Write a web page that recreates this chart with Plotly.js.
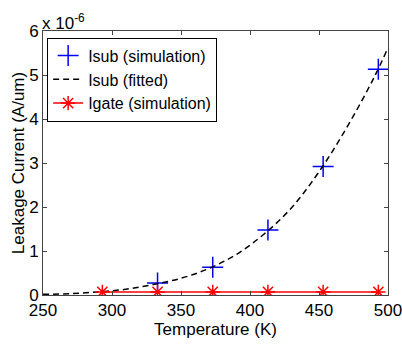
<!DOCTYPE html>
<html>
<head>
<meta charset="utf-8">
<script src="https://cdn.plot.ly/plotly-3.0.1.min.js"></script>
<style>html,body{margin:0;padding:0;background:#fff;}#chart{width:402px;height:346px;}</style>
</head>
<body>
<div id="chart"></div>
<script>
// Values in units of 1e-6 A/um
const simTemps = [333, 373, 413, 453, 493];
const isubSim = [0.27, 0.63, 1.48, 2.92, 5.13];
const fitTemps = [250, 270, 290, 310, 330, 350, 370, 390, 410, 430, 450, 470, 490, 500];
const isubFit = [0.015, 0.03, 0.07, 0.13, 0.24, 0.38, 0.60, 0.92, 1.38, 1.98, 2.80, 3.80, 4.95, 5.62];
const gateTemps = [293, 333, 373, 413, 453, 493];
const igateSim = [0.07, 0.07, 0.07, 0.07, 0.07, 0.07];
const xTicks = [250, 300, 350, 400, 450, 500];
const yTicks = [0, 1, 2, 3, 4, 5, 6];

const font = {family: 'Liberation Sans, Arial, sans-serif', size: 17, color: '#000'};
const legFont = {family: 'Liberation Sans, Arial, sans-serif', size: 16, color: '#000'};

const traces = [
  {x: simTemps, y: isubSim, name: 'Isub (simulation)', mode: 'markers', type: 'scatter',
   marker: {symbol: 'cross-thin-open', size: 15, line: {color: '#0000ff', width: 1.5}, color: '#0000ff'}},
  {x: fitTemps, y: isubFit, name: 'Isub (fitted)', mode: 'lines', type: 'scatter',
   line: {color: '#000', width: 1.5, dash: '6px,4px', shape: 'spline'}},
  {x: gateTemps, y: igateSim, name: 'Igate (simulation)', mode: 'lines+markers', type: 'scatter',
   line: {color: '#ff0000', width: 1.5},
   marker: {symbol: 'asterisk-open', size: 12, line: {color: '#ff0000', width: 1.5}, color: '#ff0000'}}
];

const layout = {
  width: 402, height: 346,
  margin: {l: 43, r: 14, t: 31, b: 51, pad: 0},
  paper_bgcolor: '#fff', plot_bgcolor: '#fff',
  font: font,
  showlegend: true,
  legend: {x: 0.012, y: 0.975, xanchor: 'left', yanchor: 'top', bgcolor: '#fff',
    bordercolor: '#000', borderwidth: 1, font: legFont, tracegroupgap: 0},
  xaxis: {range: [250, 500], tickvals: xTicks, ticktext: xTicks.map(String),
    showgrid: false, zeroline: false, showline: true, linecolor: '#444', linewidth: 1,
    mirror: 'ticks', ticks: 'inside', ticklen: 4, tickcolor: '#444', ticklabeloverflow: 'allow',
    title: {text: 'Temperature (K)', font: font, standoff: 3}, tickfont: font},
  yaxis: {range: [0, 6], tickvals: yTicks, ticktext: yTicks.map(String),
    showgrid: false, zeroline: false, showline: true, linecolor: '#444', linewidth: 1,
    mirror: 'ticks', ticks: 'inside', ticklen: 4, tickcolor: '#444', ticklabeloverflow: 'allow',
    title: {text: 'Leakage Current (A/um)', font: font, standoff: 0}, tickfont: font},
  annotations: [{xref: 'paper', yref: 'paper', x: 0, y: 1, xanchor: 'left', yanchor: 'bottom',
    text: 'x 10<sup>-6</sup>', showarrow: false, font: font, xshift: -3, yshift: -4}]
};

Plotly.newPlot('chart', traces, layout, {displayModeBar: false, staticPlot: true});
</script>
</body>
</html>
